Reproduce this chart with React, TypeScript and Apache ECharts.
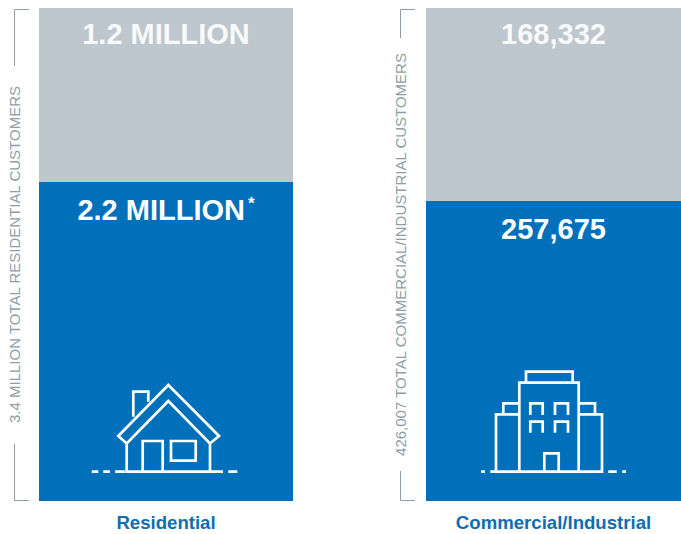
import React, { useEffect, useRef } from "react";
import * as echarts from "echarts";

const leftCategories = ["Residential"];
const leftServed = [2.2];
const leftOther = [1.2];
const leftServedLabel = "2.2 MILLION";
const leftOtherLabel = "1.2 MILLION";
const leftAxisName = "3.4 MILLION TOTAL RESIDENTIAL CUSTOMERS";

const rightCategories = ["Commercial/Industrial"];
const rightServed = [257675];
const rightOther = [168332];
const rightServedLabel = "257,675";
const rightOtherLabel = "168,332";
const rightAxisName = "426,007 TOTAL COMMERCIAL/INDUSTRIAL CUSTOMERS";
// The reference draws the blue part a little taller than its true share of 426,007.
const rightAxisMax = 423450;

const BLUE = "#0070BA";
const GREY = "#BDC7CD";
const SIDE = "#8E9DA7";
const FONT = "'Liberation Sans', Arial, sans-serif";

const HOUSE =
  "M168.3 385 L219 436 L210 443.5 L168.3 401 L126.7 443.5 L118.3 436 Z " +
  "M126.7 443 V471.7 H210 V443 " +
  "M142.7 471.7 V441 H162.7 V471.7 " +
  "M171 441 H195.7 V460.7 H171 Z " +
  "M133.3 416.7 V391.7 H148.3 V401.7 " +
  "M91.7 471.7 H98.3 M103.3 471.7 H110 M115 471.7 H125 M210.7 471.7 H223 M228.3 471.7 H237.3";

const BUILDING =
  "M526 382.7 V371.7 H572.7 V382.7 " +
  "M519.3 471.7 V382.7 H578.7 V471.7 " +
  "M519.3 414.3 H496 V471.7 H602 V414.3 H578.7 " +
  "M503.3 414.3 V403.3 H519.3 M578.7 403.3 H595 V414.3 " +
  "M530.3 415 V403.3 H542.7 V415 M555 415 V403.3 H568 V415 " +
  "M530.3 432.7 V421.7 H542.7 V432.7 M555 432.7 V421.7 H568 V432.7 " +
  "M544.3 471.7 V453.3 H558.7 V471.7 " +
  "M481 471.7 H485 M490.3 471.7 H496 M608.3 471.7 H616.7 M622.3 471.7 H626";

const BRACKETS =
  "M29 9.5 H14.5 V66 M14.5 444 V500.5 H29 " +
  "M415 9.5 H400.5 V38 M400.5 471 V500.5 H415";

echarts.graphic.registerShape("houseIcon", echarts.graphic.extendPath(HOUSE, {}));
echarts.graphic.registerShape("buildingIcon", echarts.graphic.extendPath(BUILDING, {}));
echarts.graphic.registerShape("sideBrackets", echarts.graphic.extendPath(BRACKETS, {}));

const bigLabel = (text: string, distance: number, opacity = 1) => ({
  show: true,
  position: "insideTop",
  distance,
  formatter: text,
  color: "#FFFFFF",
  opacity,
  fontFamily: FONT,
  fontWeight: "bold",
  fontSize: 29,
  rich: {
    sup: { color: "#FFFFFF", fontFamily: FONT, fontWeight: "bold", fontSize: 17, verticalAlign: "top", padding: [0, 0, 8, 3] },
  },
});

const xAxisFor = (gridIndex: number, data: string[]) => ({
  type: "category",
  gridIndex,
  data,
  axisLine: { show: false },
  axisTick: { show: false },
  axisLabel: {
    interval: 0,
    margin: 12,
    color: "#0F6DB0",
    fontFamily: FONT,
    fontWeight: "bold",
    fontSize: 18.6,
  },
});

const yAxisFor = (gridIndex: number, max: number, name: string, nameGap: number) => ({
  type: "value",
  gridIndex,
  min: 0,
  max,
  name,
  nameLocation: "middle",
  nameRotate: 90,
  nameGap,
  nameTextStyle: { color: SIDE, fontFamily: FONT, fontSize: 15 },
  axisLine: { show: false },
  axisTick: { show: false },
  axisLabel: { show: false },
  splitLine: { show: false },
});

const barFor = (axis: number, stack: string, data: number[], color: string, label: object) => ({
  type: "bar",
  xAxisIndex: axis,
  yAxisIndex: axis,
  stack,
  data,
  barWidth: "100%",
  itemStyle: { color },
  label,
});

export default function App() {
  const ref = useRef<HTMLDivElement>(null);
  useEffect(() => {
    const chart = echarts.init(ref.current!, undefined, { renderer: "svg" });
    chart.setOption({
      animation: false,
      backgroundColor: "#FFFFFF",
      grid: [
        { left: 39, width: 254, top: 8, height: 493 },
        { left: 426, width: 255, top: 8, height: 493 },
      ],
      xAxis: [xAxisFor(0, leftCategories), xAxisFor(1, rightCategories)],
      yAxis: [
        yAxisFor(0, leftServed[0] + leftOther[0], leftAxisName, 17),
        yAxisFor(1, rightAxisMax, rightAxisName, 18),
      ],
      series: [
        barFor(0, "left", leftServed, BLUE, bigLabel(leftServedLabel + "{sup|*}", 13)),
        barFor(0, "left", leftOther, GREY, bigLabel(leftOtherLabel, 11, 0.92)),
        barFor(1, "right", rightServed, BLUE, bigLabel(rightServedLabel, 13)),
        barFor(1, "right", rightOther, GREY, bigLabel(rightOtherLabel, 11, 0.92)),
      ],
      graphic: [
        { type: "sideBrackets", x: 0, y: 0, silent: true, style: { fill: "none", stroke: SIDE, lineWidth: 1 } },
        { type: "houseIcon", x: 0, y: 0, z: 10, silent: true, style: { fill: "none", stroke: "#FFFFFF", lineWidth: 2.7 } },
        { type: "buildingIcon", x: 0, y: 0, z: 10, silent: true, style: { fill: "none", stroke: "#FFFFFF", lineWidth: 2.7 } },
      ],
    });
    return () => chart.dispose();
  }, []);
  return <div ref={ref} style={{ position: "fixed", left: 0, top: 0, width: 681, height: 534 }} />;
}
